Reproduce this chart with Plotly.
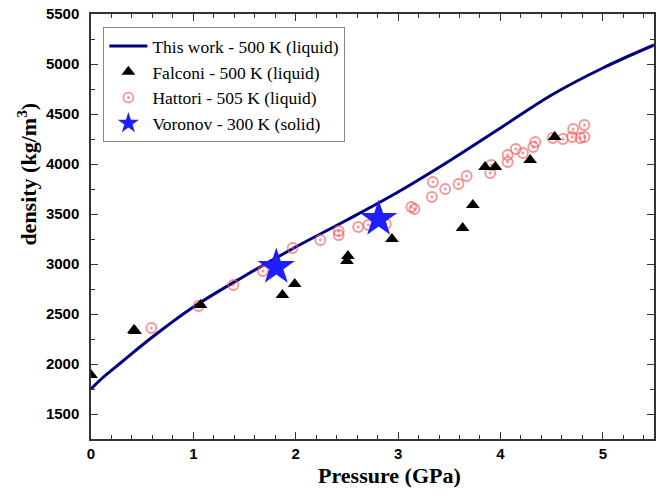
import plotly.graph_objects as go

# This work - 500 K (liquid): model curve
work_p = [0, 0.1, 0.3, 0.6, 1.0, 1.5, 2.0, 2.5, 3.0, 3.5, 4.0, 4.5, 5.0, 5.5]
work_rho = [1750, 1850, 2020, 2270, 2570, 2880, 3170, 3440, 3720, 4030, 4360, 4690, 4960, 5190]

# Falconi - 500 K (liquid)
falconi_p = [0.0, 0.42, 0.43, 1.07, 1.87, 1.99, 2.50, 2.51, 2.94, 3.63, 3.73, 3.85, 3.95, 4.29, 4.53]
falconi_rho = [1890, 2340, 2330, 2590, 2690, 2800, 3030, 3080, 3250, 3360, 3590, 3970, 3970, 4040, 4270]

# Hattori - 505 K (liquid)
hattori_p = [0.59, 1.05, 1.39, 1.68, 1.97, 2.24, 2.42, 2.42, 2.61, 2.71, 2.88, 3.13, 3.16,
             3.33, 3.34, 3.46, 3.59, 3.67, 3.90, 3.91, 4.07, 4.07, 4.15, 4.22, 4.32, 4.34,
             4.51, 4.61, 4.70, 4.71, 4.78, 4.82, 4.82]
hattori_rho = [2360, 2580, 2790, 2930, 3160, 3240, 3330, 3290, 3370, 3390, 3400, 3570, 3550,
               3670, 3820, 3750, 3800, 3880, 3910, 3990, 4090, 4020, 4150, 4110, 4170, 4220,
               4260, 4250, 4270, 4350, 4260, 4270, 4390]

# Voronov - 300 K (solid)
voronov_p = [1.81, 2.81]
voronov_rho = [2970, 3450]

fig = go.Figure()
fig.add_trace(go.Scatter(
    x=work_p, y=work_rho, mode="lines", name="This work - 500 K (liquid)",
    line=dict(color="#00007f", width=3, shape="spline", smoothing=1.0), legendrank=1))
fig.add_trace(go.Scatter(
    x=hattori_p, y=hattori_rho, mode="markers", name="Hattori - 505 K (liquid)",
    marker=dict(symbol="circle-open-dot", size=10, color="rgba(240,90,90,0.65)",
                line=dict(width=1.8, color="rgba(240,90,90,0.65)")), legendrank=3))
fig.add_trace(go.Scatter(
    x=falconi_p, y=falconi_rho, mode="markers", name="Falconi - 500 K (liquid)",
    marker=dict(symbol="triangle-up", size=12, color="black"), legendrank=2))
fig.add_trace(go.Scatter(
    x=voronov_p, y=voronov_rho, mode="markers", name="Voronov - 300 K (solid)",
    marker=dict(symbol="star", size=28, color="#1e1eff", line=dict(width=0)), legendrank=4))

axis_common = dict(
    showgrid=False, zeroline=False, showline=True, linecolor="#333333", linewidth=1.5,
    mirror="ticks", ticks="inside", ticklen=7, tickwidth=1.2, tickcolor="#333333",
    automargin=False,
    tickfont=dict(family="Liberation Sans", size=15, color="black", weight="bold"),
)

fig.update_xaxes(
    range=[0, 5.5], dtick=1, tick0=0,
    minor=dict(dtick=0.2, ticks="inside", ticklen=4, tickcolor="#333333"),
    **axis_common)
fig.update_yaxes(
    range=[1250, 5500], dtick=500, tick0=0,
    minor=dict(dtick=250, ticks="inside", ticklen=4, tickcolor="#333333"),
    ticklabelstandoff=7,
    **axis_common)

title_font = dict(family="Liberation Serif", size=22, color="black", weight="bold")
fig.add_annotation(text="Pressure (GPa)", xref="paper", yref="paper",
                   x=0.53, y=-0.087, xanchor="center", yanchor="middle",
                   showarrow=False, font=title_font)
fig.add_annotation(text="density (kg/m<sup>3</sup>)", xref="paper", yref="paper",
                   x=-0.114, y=0.624, xanchor="center", yanchor="middle", textangle=-90,
                   showarrow=False, font=title_font)

fig.update_layout(
    width=664, height=500,
    margin=dict(l=91, r=10, t=14, b=61),
    plot_bgcolor="white", paper_bgcolor="white",
    legend=dict(x=0.022, y=0.969, xanchor="left", yanchor="top",
                bgcolor="white", bordercolor="#888888", borderwidth=1,
                font=dict(family="Liberation Serif", size=17.5, color="black"),
                itemwidth=38, tracegroupgap=0),
)

fig.write_html("out.html",
               config={"displayModeBar": False},
               post_script="document.body.style.margin='0';document.body.style.overflow='hidden';")
